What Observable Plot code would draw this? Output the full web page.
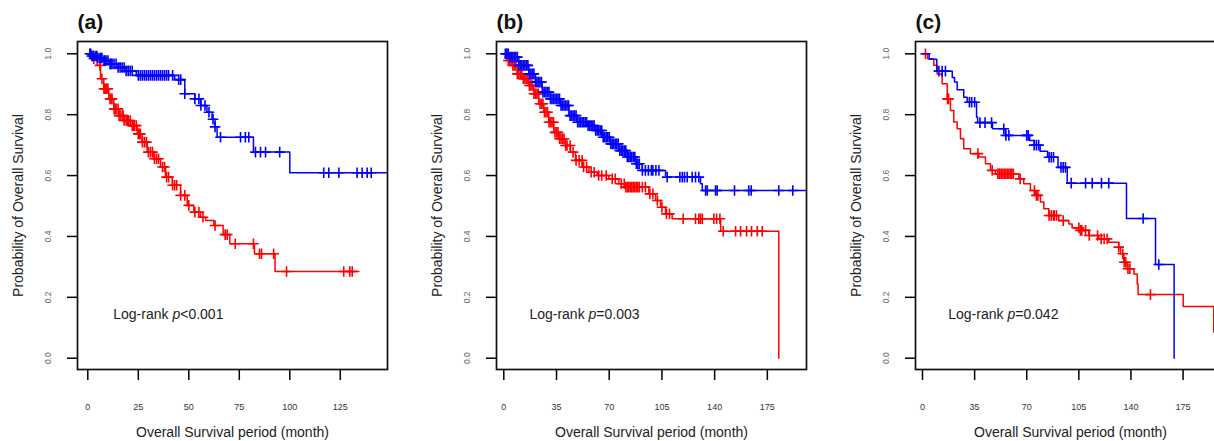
<!DOCTYPE html>
<html><head><meta charset="utf-8">
<script src="https://cdn.jsdelivr.net/npm/d3@7"></script>
<script src="https://cdn.jsdelivr.net/npm/@observablehq/plot@0.6"></script>
<style>
html,body{margin:0;padding:0;overflow:hidden;background:#fff;}
#wrap{position:relative;width:1214px;height:441px;overflow:hidden;}
.panel{position:absolute;top:0;height:441px;}
.panel svg{max-width:none !important;}
</style></head><body><div id="wrap"></div>
<script>
// ---------- DATA ----------
const panelTitles = ["(a)", "(b)", "(c)"];
const pValueText = ["<0.001", "=0.003", "=0.042"];
const xTickLabelsA = [0, 25, 50, 75, 100, 125];
const xTickLabelsBC = [0, 35, 70, 105, 140, 175];
const yTickLabels = [0, 0.2, 0.4, 0.6, 0.8, 1.0];
const xAxisTitle = "Overall Survival period (month)";
const yAxisTitle = "Probability of Overall Survival";

// Panel (a)
const redTimeA = [0,3,4.6,6.3,7.9,10.4,12.9,15.3,17.8,21.1,24.5,26.9,29.4,32.7,36,38.5,41.8,45.9,49.2,52.5,55.8,58.3,62.4,67,70.3,82.5,92.7,134.2];
const redSurvA = [1,0.984,0.962,0.918,0.885,0.852,0.819,0.797,0.781,0.764,0.737,0.710,0.677,0.655,0.628,0.595,0.568,0.535,0.502,0.480,0.463,0.452,0.436,0.406,0.376,0.343,0.285,0.285];
const redCensorA = [3,6,7,8,8.5,9,9.5,10,11,11.5,12,13,13.5,14,15,15.5,16,17,17.5,18,19,19.5,20,21,22,22.5,23,24,25,25.5,26,27,28,29,30,31,32,33,34,35,37,38,39,40,42,43,44,46,48,50,53,55,57,63,68,69,73,82,85,86,92,98.4,126.7,129.7,130.9];
const blueTimeA = [0,2,5,8,11,15,19,24,43,48,53,56,59,61.5,63,64,82,100,148.4];
const blueSurvA = [1,0.993,0.986,0.978,0.967,0.955,0.944,0.929,0.915,0.869,0.852,0.830,0.808,0.785,0.760,0.726,0.677,0.609,0.609];
const blueCensorA = [1,1.5,2,2.5,3,4,4.5,5,6,6.5,7,8,8.5,9,10,11,11.5,12,13,14,15,16,17,18,19,20,21,22,25,26,27,28,29,30,31,32,33,34,35,36,37,38,39,40,42,45,46,48,53,55,56,58,60,62,63,65.7,75.6,78,79.7,83,85.5,88,95,116.8,119.3,124.3,133.3,135.8,138.3,140.3];

// Panel (b)
const redTimeB = [0,2.2,5.6,8.9,12.2,16.6,19.9,23.2,26.6,29.9,33.2,36.5,41,44.3,47.6,52.1,56.5,62,69.7,76.4,80.8,96.3,100.8,104.1,107.4,111.8,144,182.6];
const redSurvB = [1,0.978,0.962,0.934,0.918,0.896,0.869,0.836,0.808,0.775,0.742,0.721,0.699,0.677,0.650,0.628,0.611,0.600,0.589,0.573,0.562,0.540,0.518,0.496,0.474,0.458,0.417,0];
const redCensorB = [2,3,4,5,6,7,8,9,10,11,12,13,14,15,16,17,18,19,20,21,22,23,24,25,26,27,28,29,30,31,32,33,34,35,36,37,38,39,40,41,42,44,46,48,50,52,53,55,58,60,63,65,68,72,74,78,80,81,82,83,84,85,86,87,88,89,90,92,94,97,99,102,105,108,110,119.1,127.3,129.5,130.6,131.8,139.5,141.3,143.5,145.7,153.9,157.2,161.2,164.5,168.3,171.6];
const blueTimeB = [0,3.3,10,16.6,21,25.5,31,37.7,43.2,48.7,55.4,60.9,65.4,70.9,76.4,82,87.5,91.9,107.4,130.6,131.8,201];
const blueSurvB = [1,0.989,0.962,0.934,0.907,0.874,0.852,0.830,0.797,0.775,0.764,0.748,0.726,0.704,0.682,0.661,0.639,0.617,0.595,0.573,0.551,0.551];
const blueCensorB = [1,2,3,4,5,6,7,8,9,10,11,12,13,14,15,16,17,18,19,20,21,22,23,24,25,26,27,28,29,30,31,32,33,34,35,36,37,38,39,40,41,42,43,44,45,46,47,48,49,50,51,52,53,54,55,56,57,58,59,60,61,62,63,64,65,66,67,68,69,70,71,72,73,74,75,76,77,78,79,80,81,82,83,84,85,86,87,88,89,90,92,94,96,98,99,101,103,108.5,116.9,118.5,120,121.8,125.1,127.3,129.5,134,135.1,140.6,141.7,153.2,162.7,164.3,182.6,191.9];

// Panel (c)
const redTimeC = [0,3.4,7.6,9.8,13.2,16.6,18.8,21,23.3,25.5,27.7,32.2,37.8,42.3,45.7,49,64.7,68,72.5,75.9,79.2,81.5,84.8,91.5,98.3,100.5,106,111.7,118.4,125.1,131.8,133,135.2,137.5,142,144.2,144.8,175.1,195.6];
const redSurvC = [1,0.984,0.962,0.934,0.902,0.852,0.814,0.776,0.754,0.721,0.688,0.672,0.661,0.639,0.617,0.606,0.589,0.573,0.551,0.535,0.513,0.491,0.469,0.452,0.441,0.428,0.420,0.403,0.392,0.381,0.365,0.343,0.315,0.294,0.277,0.244,0.209,0.170,0.085];
const redCensorC = [2,16.8,17.5,37.2,46.8,50.6,51.5,52,53,54,55,56,57,58,59,60,61,65.6,75.2,76.5,77.5,85,86.5,88,88.5,90,94.5,105,106.1,107,109.5,112,117.6,120,122,124,131.8,134.5,135.5,136.5,138,139.3,153.1];
const blueTimeC = [0,4.5,9.6,20,21.5,23.3,27.7,30,36.3,37,47,55.7,72,75,79,84,91,97.2,137,156.5,169];
const blueSurvC = [1,0.982,0.943,0.922,0.907,0.882,0.857,0.841,0.792,0.774,0.754,0.732,0.715,0.700,0.680,0.660,0.627,0.575,0.459,0.308,0];
const blueCensorC = [11,13.2,15.4,31.5,33,35,38.6,42,46.4,54.6,56,58,70,71,75,76.5,78,85,86.5,88,93,94.5,96,99.9,109.5,114,120.2,125.1,148.2,158.7];

// ---------- LAYOUT ----------
const RED = "#ff0000", BLUE = "#0000ff";
const FONT = "'Liberation Sans', Arial, Helvetica, sans-serif";
const panels = [
  {left: 0, width: 400, mL: 77, mR: 13, xDomain: [-5.10, 148.37], xTicks: xTickLabelsA, noteX: 12.6,
   red: [redTimeA, redSurvA, redCensorA], blue: [blueTimeA, blueSurvA, blueCensorA]},
  {left: 400, width: 410, mL: 96, mR: 4, xDomain: [-4.85, 201.0], xTicks: xTickLabelsBC, noteX: 17.0,
   red: [redTimeB, redSurvB, redCensorB], blue: [blueTimeB, blueSurvB, blueCensorB]},
  {left: 810, width: 420, mL: 105, mR: 5, xDomain: [-4.70, 203.5], xTicks: xTickLabelsBC, noteX: 17.3,
   red: [redTimeC, redSurvC, redCensorC], blue: [blueTimeC, blueSurvC, blueCensorC]}
];

const censorSymbol = {
  draw(context, size) {
    const r = Math.sqrt(size / Math.PI);
    context.moveTo(-r, 0); context.lineTo(r, 0);
    context.moveTo(0, -r); context.lineTo(0, r);
  }
};

function survAt(times, surv, t) {
  let s = surv[0];
  for (let i = 0; i < times.length; i++) if (times[i] <= t) s = surv[i];
  return s;
}

function curveMarks([times, surv, censor], color) {
  const pts = times.map((t, i) => ({t, s: surv[i]}));
  const cens = censor.map(t => ({t, s: survAt(times, surv, t)}));
  return [
    Plot.line(pts, {x: "t", y: "s", curve: "step-after", stroke: color, strokeWidth: 1.5}),
    Plot.dot(cens, {x: "t", y: "s", symbol: censorSymbol, r: 5.3, stroke: color, strokeWidth: 1.6, fill: "none"})
  ];
}

const wrap = document.getElementById("wrap");
panels.forEach((p, k) => {
  const chart = Plot.plot({
    width: p.width, height: 441,
    marginLeft: p.mL, marginRight: p.mR, marginTop: 41, marginBottom: 72,
    style: {fontFamily: FONT, background: "transparent", overflow: "visible", maxWidth: "none"},
    x: {domain: p.xDomain},
    y: {domain: [-0.0371, 1.0404]},
    marks: [
      Plot.axisX({ticks: p.xTicks, tickSize: 11, tickFormat: () => "", label: null, strokeWidth: 1.5}),
      Plot.axisY({ticks: yTickLabels, tickSize: 10, tickFormat: () => "", label: null, strokeWidth: 1.5}),
      Plot.text(p.xTicks, {x: d => d, frameAnchor: "bottom", dy: 38, lineAnchor: "middle", textAnchor: "middle", text: d => String(d), fontSize: 9, fill: "#333"}),
      Plot.text(yTickLabels, {y: d => d, frameAnchor: "left", dx: -29, rotate: -90, lineAnchor: "middle", textAnchor: "middle", text: d => d.toFixed(1), fontSize: 8.5, fill: "#666"}),
      Plot.text([xAxisTitle], {frameAnchor: "bottom", dy: 63, lineAnchor: "middle", textAnchor: "middle", text: d => d, fontSize: 14, fill: "#222"}),
      Plot.text([yAxisTitle], {frameAnchor: "left", dx: -59, rotate: -90, lineAnchor: "middle", textAnchor: "middle", text: d => d, fontSize: 14, fill: "#222"}),
      Plot.text([panelTitles[k]], {frameAnchor: "top-left", dy: -19, lineAnchor: "middle", textAnchor: "start", text: d => d, fontSize: 21, fontWeight: "bold", fill: "#111"}),
      ...curveMarks(p.red, RED),
      ...curveMarks(p.blue, BLUE),
      Plot.text([pValueText[k]], {x: p.noteX, y: 0.145, text: d => "Log-rank p" + d, lineAnchor: "middle", textAnchor: "start", fontSize: 14, fill: "#222"}),
      Plot.frame({stroke: "#111", strokeWidth: 1.7})
    ]
  });
  chart.style.maxWidth = "none";
  chart.setAttribute("width", p.width);
  chart.setAttribute("height", 441);
  // italic "p" in the log-rank note
  d3.select(chart).selectAll("text").each(function() {
    const s = this.textContent;
    if (s.startsWith("Log-rank p")) {
      const rest = s.slice("Log-rank p".length);
      const sel = d3.select(this);
      sel.text(null);
      sel.append("tspan").text("Log-rank ");
      sel.append("tspan").attr("font-style", "italic").text("p");
      sel.append("tspan").text(rest);
    }
  });
  const div = document.createElement("div");
  div.className = "panel";
  div.style.left = p.left + "px";
  div.style.width = p.width + "px";
  div.appendChild(chart);
  wrap.appendChild(div);
});
</script></body></html>
